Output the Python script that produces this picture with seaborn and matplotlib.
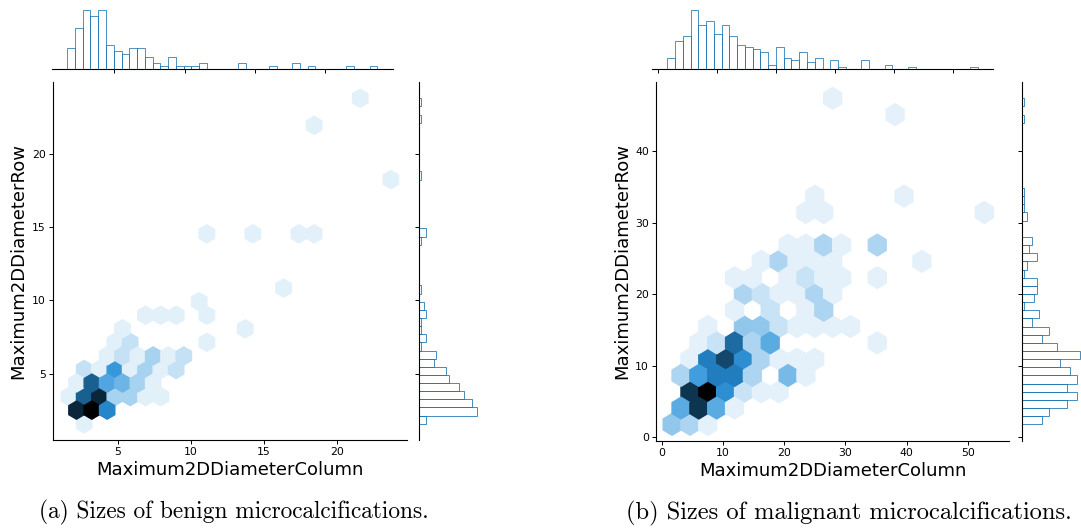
import numpy as np
import matplotlib
matplotlib.use("Agg")
import matplotlib as mpl
import matplotlib.pyplot as plt
import seaborn as sns
from seaborn.utils import set_hls_values

# ---------------- benign microcalcifications ----------------
# observed data range (min/max) of the two diameters
benign_col_range = (1.64, 23.72)
benign_row_range = (1.59, 23.80)

# occupied hexagon cells: column diameter, row diameter, number of samples
benign_x = [21.60, 18.46, 23.72, 11.10, 14.25, 17.40, 18.46, 16.35, 10.57,
            6.90, 7.95, 9.00, 11.10, 5.32, 13.72, 4.79, 5.84, 11.10,
            4.27, 5.32, 6.37, 7.42, 8.47, 9.52,
            2.69, 3.74, 4.79, 5.84, 6.90, 7.95, 9.00,
            2.17, 3.22, 4.27, 5.32, 6.37, 7.42,
            1.64, 2.69, 3.74, 4.79, 5.84, 6.90, 7.95,
            2.17, 3.22, 4.27, 2.69]
benign_y = [23.80, 21.95, 18.25, 14.55, 14.55, 14.55, 14.55, 10.85, 9.92,
            9.00, 9.00, 9.00, 9.00, 8.07, 8.07, 7.14, 7.14, 7.14,
            6.22, 6.22, 6.22, 6.22, 6.22, 6.22,
            5.29, 5.29, 5.29, 5.29, 5.29, 5.29, 5.29,
            4.37, 4.37, 4.37, 4.37, 4.37, 4.37,
            3.44, 3.44, 3.44, 3.44, 3.44, 3.44, 3.44,
            2.52, 2.52, 2.52, 1.59]
benign_n = [1, 1, 1, 1, 1, 1, 1, 1, 1,
            1, 1, 1, 1, 1, 1, 1, 2, 1,
            1, 2, 1, 3, 1, 2,
            2, 1, 7, 1, 3, 1, 2,
            1, 10, 6, 5, 3, 1,
            1, 10, 13, 3, 3, 1, 1,
            13, 15, 8, 1]

# marginal histogram counts (40 equal bins over the data range)
benign_col_counts = [7, 14, 20, 18, 20, 8, 6, 5, 7, 7, 4, 2, 1, 4, 1, 1, 1, 2, 0, 0,
                     0, 0, 2, 0, 0, 0, 1, 0, 0, 2, 0, 1, 0, 0, 0, 0, 1, 0, 0, 1]
benign_row_counts = [3, 23, 21, 18, 16, 12, 11, 6, 7, 1, 3, 1, 1, 3, 2, 0, 1, 0, 0, 0,
                     0, 0, 1, 3, 0, 0, 0, 0, 0, 0, 1, 0, 0, 0, 0, 0, 0, 1, 0, 1]

# ---------------- malignant microcalcifications ----------------
malignant_col_range = (1.64, 54.17)
malignant_row_range = (1.78, 47.39)

malignant_x = [1.64, 4.56, 7.48,
               3.10, 6.02, 8.93, 11.85,
               4.56, 7.48, 10.39, 13.31, 16.23, 19.15,
               3.10, 6.02, 8.93, 11.85, 14.77, 20.61, 23.52,
               4.56, 7.48, 10.39, 13.31, 16.23, 19.15, 22.07, 24.98,
               6.02, 8.93, 11.85, 14.77, 17.69, 35.20,
               7.48, 13.31, 16.23, 19.15, 22.07, 24.98, 27.90, 30.82,
               11.85, 17.69, 23.52, 26.44,
               13.31, 16.23, 19.15, 22.07, 24.98, 27.90,
               11.85, 14.77, 20.61, 23.52, 26.44, 29.36, 35.20,
               16.23, 19.15, 22.07, 24.98, 27.90, 42.49,
               20.61, 23.52, 26.44, 29.36, 35.20,
               23.52, 26.44, 52.71,
               24.98, 39.57,
               38.11, 27.90]
malignant_y = [1.78, 1.78, 1.78,
               4.06, 4.06, 4.06, 4.06,
               6.34, 6.34, 6.34, 6.34, 6.34, 6.34,
               8.62, 8.62, 8.62, 8.62, 8.62, 8.62, 8.62,
               10.90, 10.90, 10.90, 10.90, 10.90, 10.90, 10.90, 10.90,
               13.18, 13.18, 13.18, 13.18, 13.18, 13.18,
               15.46, 15.46, 15.46, 15.46, 15.46, 15.46, 15.46, 15.46,
               17.74, 17.74, 17.74, 17.74,
               20.02, 20.02, 20.02, 20.02, 20.02, 20.02,
               22.30, 22.30, 22.30, 22.30, 22.30, 22.30, 22.30,
               24.59, 24.59, 24.59, 24.59, 24.59, 24.59,
               26.87, 26.87, 26.87, 26.87, 26.87,
               31.43, 31.43, 31.43,
               33.71, 33.71,
               45.11, 47.39]
malignant_n = [4, 3, 1,
               6, 13, 6, 1,
               13, 16, 8, 2, 1, 1,
               3, 7, 9, 9, 3, 5, 1,
               1, 9, 12, 8, 3, 1, 1, 1,
               1, 2, 10, 3, 6, 1,
               1, 4, 4, 2, 1, 1, 1, 1,
               1, 2, 1, 3,
               3, 2, 1, 1, 3, 1,
               1, 1, 1, 2, 1, 1, 1,
               1, 3, 1, 1, 1, 1,
               1, 1, 3, 1, 3,
               1, 1, 1,
               1, 1,
               1, 1]

malignant_col_counts = [5, 13, 15, 27, 20, 22, 16, 20, 15, 11, 10, 9, 8, 2, 10, 5, 4, 8, 3, 5,
                        0, 4, 1, 0, 0, 4, 0, 0, 2, 0, 0, 1, 0, 0, 0, 0, 0, 0, 0, 1]
malignant_row_counts = [8, 11, 18, 22, 18, 22, 19, 15, 23, 14, 8, 11, 4, 7, 1, 5, 6, 6, 1, 2,
                        6, 3, 4, 0, 0, 2, 1, 1, 1, 0, 0, 0, 0, 0, 0, 0, 0, 1, 0, 1]

x_label = "Maximum2DDiameterColumn"
y_label = "Maximum2DDiameterRow"
captions = ["(a) Sizes of benign microcalcifications.",
            "(b) Sizes of malignant microcalcifications."]

# ---------------- figure ----------------
W, H = 1081, 529
fig = plt.figure(figsize=(W / 100, H / 100), dpi=100)


def box(left, top, right, bottom):
    """Axes rectangle from pixel edges measured from the top-left corner."""
    return [left / W, 1 - bottom / H, (right - left) / W, (bottom - top) / H]


# seaborn's jointplot hex colormap: C0 hue from white to black
base_rgb = mpl.colors.to_rgb("C0")
hex_colors = [set_hls_values(base_rgb, l=v) for v in np.linspace(1, 0, 12)]
hex_cmap = sns.blend_palette(hex_colors, as_cmap=True)


def bins_for(rng, counts):
    edges = np.linspace(rng[0], rng[1], len(counts) + 1)
    centers = (edges[:-1] + edges[1:]) / 2
    return [float(e) for e in edges], centers


def joint_panel(joint_box, margx_box, margy_box, xs, ys, ns, col_rng, row_rng,
                col_counts, row_counts, gridsize):
    ax = fig.add_axes(box(*joint_box))
    ax_mx = fig.add_axes(box(*margx_box))
    ax_my = fig.add_axes(box(*margy_box), sharey=ax)

    ax.hexbin(xs, ys, C=ns, reduce_C_function=np.sum, gridsize=gridsize,
              extent=(col_rng[0], col_rng[1], row_rng[0], row_rng[1]),
              cmap=hex_cmap, vmin=0)

    edges, centers = bins_for(col_rng, col_counts)
    sns.histplot(x=centers, weights=np.asarray(col_counts, float), bins=edges,
                 fill=False, color="C0", ax=ax_mx)
    edges, centers = bins_for(row_rng, row_counts)
    sns.histplot(y=centers, weights=np.asarray(row_counts, float), bins=edges,
                 fill=False, color="C0", ax=ax_my)

    ax_mx.set_xticks(ax.get_xticks())
    ax_mx.set_xlim(ax.get_xlim())

    ax.set_xlabel(x_label, fontsize=13, labelpad=3)
    ax.set_ylabel(y_label, fontsize=13, labelpad=3)
    ax.tick_params(labelsize=7.8, length=2.8, width=0.7, pad=2.2)
    for s in ("top", "right"):
        ax.spines[s].set_visible(False)

    for m in (ax_mx, ax_my):
        m.set_xlabel("")
        m.set_ylabel("")
        for s in ("top", "right"):
            m.spines[s].set_visible(False)
    ax_mx.spines["left"].set_visible(False)
    ax_my.spines["bottom"].set_visible(False)
    ax_mx.tick_params(axis="x", labelbottom=False, length=2.8, width=0.7)
    ax_mx.tick_params(axis="y", left=False, labelleft=False)
    ax_my.tick_params(axis="y", labelleft=False, length=2.8, width=0.7)
    ax_my.tick_params(axis="x", bottom=False, labelbottom=False)
    return ax


joint_panel((52.7, 82, 407, 440), (51.7, 7, 393, 69), (418.7, 82, 479.7, 440),
            benign_x, benign_y, benign_n, benign_col_range, benign_row_range,
            benign_col_counts, benign_row_counts, gridsize=(21, 12))
joint_panel((656, 82, 1009.3, 440.7), (651.8, 7, 993.2, 69), (1021.7, 82, 1082.7, 440.7),
            malignant_x, malignant_y, malignant_n, malignant_col_range, malignant_row_range,
            malignant_col_counts, malignant_row_counts, gridsize=(18, 10))

fig.text(234 / W, 1 - 512 / H, captions[0], family="cmr10", fontsize=16.8,
         ha="center", va="center")
fig.text(849 / W, 1 - 513 / H, captions[1], family="cmr10", fontsize=17.6,
         ha="center", va="center")

fig.savefig("out.png", dpi=100)
